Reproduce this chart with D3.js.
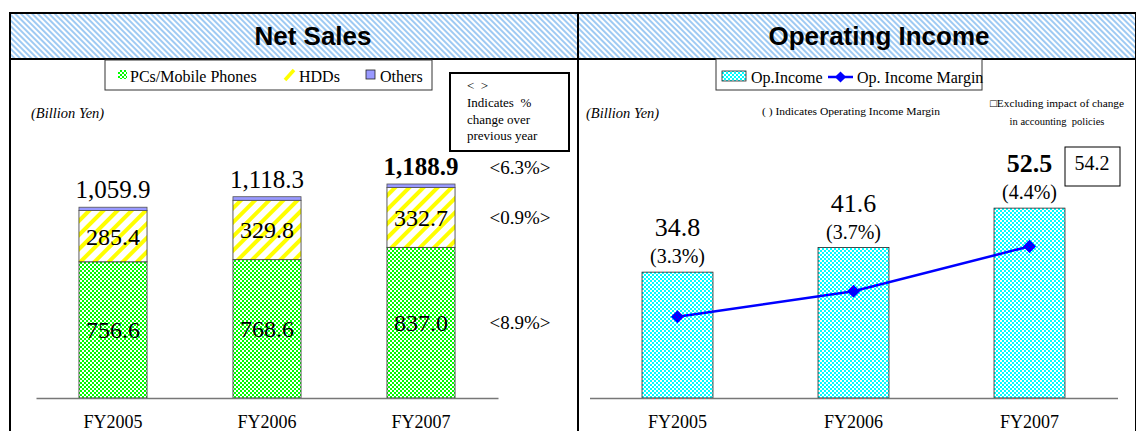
<!DOCTYPE html>
<html>
<head>
<meta charset="utf-8">
<script src="https://cdnjs.cloudflare.com/ajax/libs/d3/7.8.5/d3.min.js"></script>
<style>
  body { margin: 0; background: #fff; }
  svg text { font-family: "Liberation Serif", "Times New Roman", serif; fill: #000; }
  svg .hdr { font-family: "Liberation Sans", Arial, sans-serif; font-weight: bold; }
</style>
</head>
<body>
<div id="chart"></div>
<script>
// data
var years = ["FY2005", "FY2006", "FY2007"];
var pcs = [756.6, 768.6, 837.0];
var hdds = [285.4, 329.8, 332.7];
var others = [17.9, 19.9, 19.2];
var totals = [1059.9, 1118.3, 1188.9];
var growth = ["<8.9%>", "<0.9%>", "<6.3%>"]; // PCs, HDDs, total (FY2007)
var opIncome = [34.8, 41.6, 52.5];
var opMargin = [3.3, 3.7, 4.4];
var opAdjusted = 54.2;

var W = 1136, H = 431;
var svg = d3.select("#chart").append("svg").attr("width", W).attr("height", H);
var defs = svg.append("defs");

// patterns
var p = defs.append("pattern").attr("id", "banner").attr("width", 4).attr("height", 4)
  .attr("patternUnits", "userSpaceOnUse").attr("patternTransform", "rotate(-45)");
p.append("rect").attr("width", 4).attr("height", 4).attr("fill", "#fff");
p.append("rect").attr("width", 2).attr("height", 4).attr("fill", "#9fcaf3");

function checker(id, col) {
  var c = defs.append("pattern").attr("id", id).attr("width", 4).attr("height", 4)
    .attr("patternUnits", "userSpaceOnUse");
  c.append("rect").attr("width", 4).attr("height", 4).attr("fill", col);
  c.append("rect").attr("width", 2).attr("height", 2).attr("fill", "#fff");
  c.append("rect").attr("x", 2).attr("y", 2).attr("width", 2).attr("height", 2).attr("fill", "#fff");
}
checker("green", "#00ff00");
checker("cyan", "#00ffff");

var s = defs.append("pattern").attr("id", "yellow").attr("width", 10).attr("height", 10)
  .attr("patternUnits", "userSpaceOnUse").attr("patternTransform", "rotate(45)");
s.append("rect").attr("width", 10).attr("height", 10).attr("fill", "#fff");
s.append("rect").attr("width", 4).attr("height", 10).attr("fill", "#ffff00");

// frame + header banner
svg.append("rect").attr("x", 9).attr("y", 13).attr("width", 1126).attr("height", 46)
  .attr("fill", "url(#banner)");
svg.append("rect").attr("x", 10).attr("y", 13).attr("width", 1126).attr("height", 440)
  .attr("fill", "none").attr("stroke", "#000").attr("stroke-width", 2);
svg.append("line").attr("x1", 9).attr("x2", 1136).attr("y1", 59).attr("y2", 59)
  .attr("stroke", "#000").attr("stroke-width", 2);
svg.append("line").attr("x1", 578).attr("x2", 578).attr("y1", 13).attr("y2", 431)
  .attr("stroke", "#000").attr("stroke-width", 2);
svg.append("text").attr("class", "hdr").attr("x", 313).attr("y", 45)
  .attr("text-anchor", "middle").style("font-size", "26px").text("Net Sales");
svg.append("text").attr("class", "hdr").attr("x", 879).attr("y", 45)
  .attr("text-anchor", "middle").style("font-size", "26px").text("Operating Income");

/* ---------- Net Sales ---------- */
var x1 = d3.scaleBand().domain(years).range([36, 498]).paddingInner(0.558).paddingOuter(0.279);
var y1 = d3.scaleLinear().domain([0, 1200]).range([398, 182]);

var rows = years.map(function(d, i) {
  return { year: d, pcs: pcs[i], hdds: hdds[i], others: others[i] };
});
var stack = d3.stack().keys(["pcs", "hdds", "others"])(rows);
var fills = { pcs: "url(#green)", hdds: "url(#yellow)", others: "#9999ff" };

var left = svg.append("g");
left.selectAll("g.layer").data(stack).enter().append("g").attr("class", "layer")
  .each(function(layer) {
    d3.select(this).selectAll("rect").data(layer).enter().append("rect")
      .attr("x", function(d) { return x1(d.data.year); })
      .attr("y", function(d) { return y1(d[1]); })
      .attr("width", x1.bandwidth())
      .attr("height", function(d) { return y1(d[0]) - y1(d[1]); })
      .attr("fill", fills[layer.key])
      .attr("stroke", layer.key == "others" ? "#555" : "#333")
      .attr("stroke-width", 0.8);
  });

// segment values
[0, 1].forEach(function(k) {
  left.selectAll(".seg" + k).data(stack[k]).enter().append("text")
    .attr("x", function(d) { return x1(d.data.year) + x1.bandwidth() / 2; })
    .attr("y", function(d) { return (y1(d[0]) + y1(d[1])) / 2; })
    .attr("dy", "0.35em").attr("text-anchor", "middle").style("font-size", "24px")
    .text(function(d) { return d3.format(".1f")(d[1] - d[0]); });
});

left.selectAll(".tot").data(totals).enter().append("text")
  .attr("x", function(d, i) { return x1(years[i]) + x1.bandwidth() / 2; })
  .attr("y", function(d) { return y1(d) - 9; })
  .attr("text-anchor", "middle")
  .style("font-size", "25px")
  .style("font-weight", function(d, i) { return i == 2 ? "bold" : "normal"; })
  .text(function(d) { return d3.format(",.1f")(d); });

// % change labels beside FY2007
var last = stack.map(function(l) { return l[2]; });
var gy = [(y1(last[0][0]) + y1(last[0][1])) / 2, (y1(last[1][0]) + y1(last[1][1])) / 2, y1(totals[2]) - 17];
left.selectAll(".grw").data(growth).enter().append("text")
  .attr("x", 520).attr("y", function(d, i) { return gy[i]; }).attr("dy", "0.35em")
  .attr("text-anchor", "middle").style("font-size", "19px").text(function(d) { return d; });

left.append("g").attr("transform", "translate(0,398)")
  .call(d3.axisBottom(x1).tickSize(0).tickPadding(17))
  .call(function(g) {
    g.select(".domain").attr("stroke", "#777").attr("stroke-width", 1.5);
    g.selectAll("text").style("font-family", "Liberation Serif").style("font-size", "18px");
  });

left.append("text").attr("x", 31).attr("y", 118).style("font-style", "italic")
  .style("font-size", "14.5px").text("(Billion Yen)");

// legend
var lg = left.append("g");
lg.append("rect").attr("x", 105).attr("y", 60).attr("width", 327).attr("height", 30)
  .attr("fill", "#fff").attr("stroke", "#333");
lg.append("rect").attr("x", 118).attr("y", 70).attr("width", 9).attr("height", 9).attr("fill", "url(#green)");
lg.append("text").attr("x", 130).attr("y", 82).style("font-size", "16px").text("PCs/Mobile Phones");
lg.append("line").attr("x1", 285).attr("y1", 80).attr("x2", 294).attr("y2", 70)
  .attr("stroke", "#ffff00").attr("stroke-width", 3.5);
lg.append("text").attr("x", 299).attr("y", 82).style("font-size", "16px").text("HDDs");
lg.append("rect").attr("x", 366).attr("y", 70).attr("width", 9).attr("height", 9)
  .attr("fill", "#9999ff").attr("stroke", "#222").attr("stroke-width", 0.8);
lg.append("text").attr("x", 380).attr("y", 82).style("font-size", "16px").text("Others");

// note box
var nb = left.append("g");
nb.append("rect").attr("x", 450).attr("y", 73).attr("width", 119).attr("height", 78)
  .attr("fill", "#fff").attr("stroke", "#000").attr("stroke-width", 2);
["<  >", "Indicates  %", "change over", "previous year"].forEach(function(t, i) {
  nb.append("text").attr("x", 467).attr("y", 90 + i * 16.8).style("font-size", "13px")
    .style("white-space", "pre").text(t);
});

/* ---------- Operating Income ---------- */
var x2 = d3.scaleBand().domain(years).range([589.5, 1117.5]).paddingInner(0.597).paddingOuter(0.2985);
var y2 = d3.scaleLinear().domain([0, 60]).range([398, 181]);
var ym = d3.scaleLinear().domain([2, 5]).range([400, 208]);

var right = svg.append("g");
right.selectAll(".ob").data(opIncome).enter().append("rect")
  .attr("x", function(d, i) { return x2(years[i]); })
  .attr("y", function(d) { return y2(d); })
  .attr("width", x2.bandwidth())
  .attr("height", function(d) { return y2(0) - y2(d); })
  .attr("fill", "url(#cyan)").attr("stroke", "#222").attr("stroke-width", 0.8);

right.selectAll(".ov").data(opIncome).enter().append("text")
  .attr("x", function(d, i) { return x2(years[i]) + x2.bandwidth() / 2; })
  .attr("y", function(d) { return y2(d) - 36; })
  .attr("text-anchor", "middle").style("font-size", "26px")
  .style("font-weight", function(d, i) { return i == 2 ? "bold" : "normal"; })
  .text(function(d) { return d3.format(".1f")(d); });

right.selectAll(".om").data(opMargin).enter().append("text")
  .attr("x", function(d, i) { return x2(years[i]) + x2.bandwidth() / 2; })
  .attr("y", function(d, i) { return y2(opIncome[i]) - 9; })
  .attr("text-anchor", "middle").style("font-size", "20px")
  .text(function(d) { return "(" + d3.format(".1f")(d) + "%)"; });

var line = d3.line()
  .x(function(d, i) { return x2(years[i]) + x2.bandwidth() / 2; })
  .y(function(d) { return ym(d); });
right.append("path").datum(opMargin).attr("d", line)
  .attr("fill", "none").attr("stroke", "#0000ff").attr("stroke-width", 2.5);
right.selectAll(".dm").data(opMargin).enter().append("path")
  .attr("d", d3.symbol().type(d3.symbolDiamond2).size(110))
  .attr("transform", function(d, i) {
    return "translate(" + (x2(years[i]) + x2.bandwidth() / 2) + "," + ym(d) + ")";
  })
  .attr("fill", "#0000ff");

right.append("g").attr("transform", "translate(0,398)")
  .call(d3.axisBottom(x2).tickSize(0).tickPadding(17))
  .call(function(g) {
    g.select(".domain").attr("stroke", "#777").attr("stroke-width", 1.5);
    g.selectAll("text").style("font-family", "Liberation Serif").style("font-size", "18px");
  });

// adjusted figure box
right.append("rect").attr("x", 1065).attr("y", 147).attr("width", 55).attr("height", 39)
  .attr("fill", "#fff").attr("stroke", "#000");
right.append("text").attr("x", 1092).attr("y", 170).attr("text-anchor", "middle")
  .style("font-size", "20px").text(d3.format(".1f")(opAdjusted));

right.append("text").attr("x", 586).attr("y", 118).style("font-style", "italic")
  .style("font-size", "14.5px").text("(Billion Yen)");
right.append("text").attr("x", 762).attr("y", 115).style("font-size", "11px")
  .attr("textLength", 178).attr("lengthAdjust", "spacingAndGlyphs")
  .text("( ) Indicates Operating Income Margin");
right.append("text").attr("x", 990).attr("y", 107).style("font-size", "10.5px")
  .attr("textLength", 134).attr("lengthAdjust", "spacingAndGlyphs")
  .text("\u25a1Excluding impact of change");
right.append("text").attr("x", 1057).attr("y", 125).attr("text-anchor", "middle")
  .style("font-size", "10.5px").text("in accounting  policies").style("white-space", "pre");

// legend
var lg2 = right.append("g");
lg2.append("rect").attr("x", 716).attr("y", 59).attr("width", 266).attr("height", 31)
  .attr("fill", "#fff").attr("stroke", "#333");
lg2.append("rect").attr("x", 722).attr("y", 71).attr("width", 24).attr("height", 10)
  .attr("fill", "url(#cyan)").attr("stroke", "#222").attr("stroke-width", 0.8);
lg2.append("text").attr("x", 751).attr("y", 83).style("font-size", "16px").text("Op.Income");
lg2.append("line").attr("x1", 828).attr("x2", 853).attr("y1", 77).attr("y2", 77)
  .attr("stroke", "#0000ff").attr("stroke-width", 2.5);
lg2.append("path").attr("d", d3.symbol().type(d3.symbolDiamond2).size(80))
  .attr("transform", "translate(840.5,77)").attr("fill", "#0000ff");
lg2.append("text").attr("x", 857).attr("y", 83).style("font-size", "16px").text("Op. Income Margin");
</script>
</body>
</html>
